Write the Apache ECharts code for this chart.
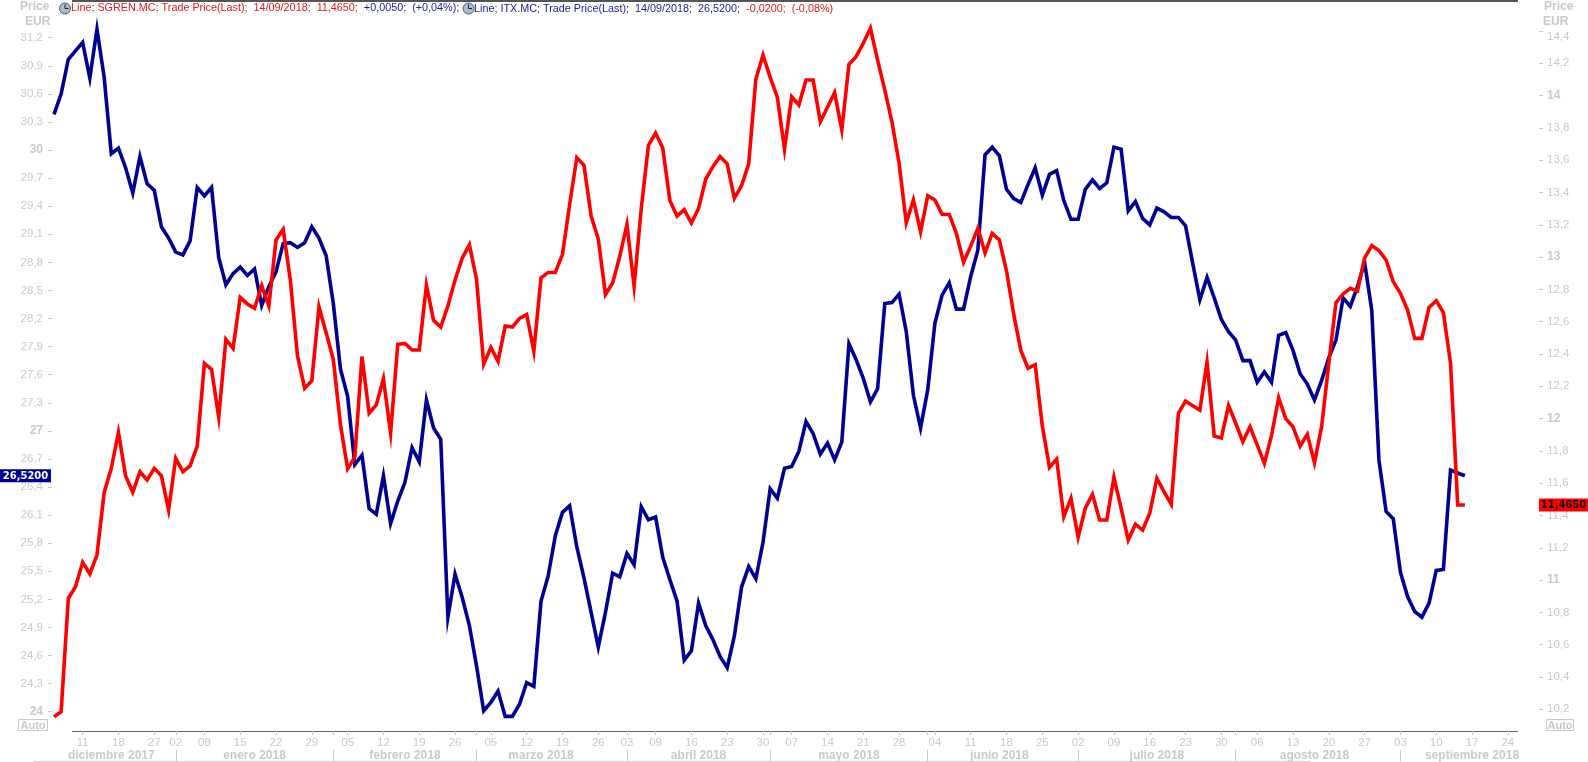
<!DOCTYPE html>
<html>
<head>
    <meta charset="utf-8">
    <title>SGREN.MC / ITX.MC</title>
    <script src="https://cdn.jsdelivr.net/npm/echarts@6/dist/echarts.min.js"></script>
    <style>
        html, body { margin: 0; padding: 0; background: #fff; }
        #main { width: 1588px; height: 762px; }
    </style>
</head>
<body>
<div id="main"></div>
<script>
// sesiones de mercado, la cola sin datos deja sitio a la derecha del eje
var dates = [
    '2017-12-05','2017-12-06','2017-12-07','2017-12-08','2017-12-11','2017-12-12','2017-12-13','2017-12-14','2017-12-15','2017-12-18','2017-12-19','2017-12-20','2017-12-21','2017-12-22','2017-12-27','2017-12-28','2017-12-29',
    '2018-01-02','2018-01-03','2018-01-04','2018-01-05','2018-01-08','2018-01-09','2018-01-10','2018-01-11','2018-01-12','2018-01-15','2018-01-16','2018-01-17','2018-01-18','2018-01-19','2018-01-22','2018-01-23','2018-01-24','2018-01-25','2018-01-26','2018-01-29','2018-01-30','2018-01-31',
    '2018-02-01','2018-02-02','2018-02-05','2018-02-06','2018-02-07','2018-02-08','2018-02-09','2018-02-12','2018-02-13','2018-02-14','2018-02-15','2018-02-16','2018-02-19','2018-02-20','2018-02-21','2018-02-22','2018-02-23','2018-02-26','2018-02-27','2018-02-28',
    '2018-03-01','2018-03-02','2018-03-05','2018-03-06','2018-03-07','2018-03-08','2018-03-09','2018-03-12','2018-03-13','2018-03-14','2018-03-15','2018-03-16','2018-03-19','2018-03-20','2018-03-21','2018-03-22','2018-03-23','2018-03-26','2018-03-27','2018-03-28','2018-03-29',
    '2018-04-03','2018-04-04','2018-04-05','2018-04-06','2018-04-09','2018-04-10','2018-04-11','2018-04-12','2018-04-13','2018-04-16','2018-04-17','2018-04-18','2018-04-19','2018-04-20','2018-04-23','2018-04-24','2018-04-25','2018-04-26','2018-04-27','2018-04-30',
    '2018-05-02','2018-05-03','2018-05-04','2018-05-07','2018-05-08','2018-05-09','2018-05-10','2018-05-11','2018-05-14','2018-05-15','2018-05-16','2018-05-17','2018-05-18','2018-05-21','2018-05-22','2018-05-23','2018-05-24','2018-05-25','2018-05-28','2018-05-29','2018-05-30','2018-05-31',
    '2018-06-01','2018-06-04','2018-06-05','2018-06-06','2018-06-07','2018-06-08','2018-06-11','2018-06-12','2018-06-13','2018-06-14','2018-06-15','2018-06-18','2018-06-19','2018-06-20','2018-06-21','2018-06-22','2018-06-25','2018-06-26','2018-06-27','2018-06-28','2018-06-29',
    '2018-07-02','2018-07-03','2018-07-04','2018-07-05','2018-07-06','2018-07-09','2018-07-10','2018-07-11','2018-07-12','2018-07-13','2018-07-16','2018-07-17','2018-07-18','2018-07-19','2018-07-20','2018-07-23','2018-07-24','2018-07-25','2018-07-26','2018-07-27','2018-07-30','2018-07-31',
    '2018-08-01','2018-08-02','2018-08-03','2018-08-06','2018-08-07','2018-08-08','2018-08-09','2018-08-10','2018-08-13','2018-08-14','2018-08-15','2018-08-16','2018-08-17','2018-08-20','2018-08-21','2018-08-22','2018-08-23','2018-08-24','2018-08-27','2018-08-28','2018-08-29','2018-08-30','2018-08-31',
    '2018-09-03','2018-09-04','2018-09-05','2018-09-06','2018-09-07','2018-09-10','2018-09-11','2018-09-12','2018-09-13','2018-09-14',
    '2018-09-17','2018-09-18','2018-09-19','2018-09-20','2018-09-21','2018-09-24','2018-09-25'
];

// ITX.MC, eje izquierdo
var itxValues = [
    30.38,30.60,30.97,31.06,31.15,30.77,31.29,30.78,29.96,30.02,29.81,29.54,29.93,29.64,29.57,29.18,29.06,
    28.91,28.88,29.03,29.60,29.51,29.60,28.85,28.56,28.68,28.75,28.66,28.73,28.34,28.54,28.70,29.00,29.01,28.96,29.01,29.18,29.06,28.87,
    28.36,27.66,27.37,26.64,26.74,26.17,26.11,26.52,26.01,26.25,26.45,26.82,26.67,27.33,27.03,26.91,25.01,25.47,25.22,24.92,
    24.49,24.01,24.10,24.22,23.95,23.95,24.08,24.31,24.27,25.18,25.45,25.88,26.13,26.20,25.76,25.43,25.06,24.69,25.06,25.48,25.44,
    25.69,25.57,26.19,26.05,26.08,25.65,25.41,25.18,24.55,24.65,25.16,24.92,24.77,24.59,24.47,24.81,25.33,25.55,25.42,25.81,
    26.38,26.28,26.60,26.62,26.78,27.10,26.97,26.75,26.87,26.69,26.88,27.93,27.76,27.56,27.31,27.45,28.36,28.37,28.46,28.06,27.38,27.03,
    27.44,28.15,28.45,28.58,28.30,28.30,28.65,28.93,29.95,30.03,29.94,29.58,29.48,29.44,29.63,29.81,29.52,29.74,29.78,29.46,29.26,
    29.26,29.58,29.68,29.59,29.65,30.03,30.01,29.35,29.45,29.27,29.20,29.38,29.34,29.28,29.28,29.19,28.79,28.40,28.64,28.42,28.19,28.06,
    27.97,27.75,27.75,27.52,27.63,27.52,28.02,28.05,27.86,27.61,27.50,27.33,27.54,27.78,27.97,28.42,28.33,28.54,28.80,28.29,26.69,26.14,26.06,
    25.49,25.23,25.07,25.01,25.16,25.51,25.52,26.58,26.55,26.52
];

// SGREN.MC, eje derecho
var sgrenValues = [
    10.154,10.185,10.887,10.959,11.110,11.038,11.155,11.541,11.692,11.915,11.645,11.544,11.671,11.620,11.692,11.646,11.434,
    11.754,11.671,11.707,11.830,12.342,12.305,12.008,12.491,12.435,12.751,12.710,12.683,12.823,12.697,13.106,13.172,12.858,12.388,12.188,12.235,12.692,12.531,
    12.365,11.962,11.690,11.761,12.384,12.033,12.085,12.246,11.911,12.460,12.465,12.425,12.425,12.827,12.609,12.567,12.697,12.858,12.993,13.076,
    12.863,12.337,12.441,12.354,12.573,12.567,12.621,12.645,12.417,12.871,12.905,12.905,13.017,13.325,13.616,13.569,13.254,13.112,12.768,12.840,13.005,
    13.202,12.820,13.301,13.692,13.768,13.676,13.349,13.254,13.294,13.211,13.302,13.482,13.560,13.622,13.577,13.364,13.442,13.577,14.101,14.251,
    14.113,13.990,13.669,13.993,13.942,14.097,14.097,13.838,13.928,14.018,13.787,14.194,14.241,14.324,14.417,14.220,14.035,13.838,13.581,13.213,13.354,13.157,
    13.380,13.354,13.265,13.264,13.147,12.968,13.068,13.178,13.025,13.147,13.106,12.914,12.648,12.422,12.312,12.334,11.954,11.698,11.749,11.393,11.507,
    11.265,11.445,11.531,11.372,11.372,11.637,11.445,11.248,11.346,11.310,11.414,11.630,11.547,11.469,12.033,12.109,12.080,12.053,12.350,11.892,11.880,12.081,
    11.971,11.857,11.950,11.837,11.723,11.894,12.129,11.998,11.950,11.830,11.903,11.727,11.950,12.342,12.718,12.772,12.807,12.790,12.993,13.071,13.040,12.982,12.848,
    12.776,12.672,12.497,12.497,12.689,12.730,12.656,12.342,11.465,11.465
];

// primeras sesiones de cada semana con etiqueta en el eje
var weekDates = [
    '2017-12-11','2017-12-18','2017-12-27','2018-01-02','2018-01-08','2018-01-15','2018-01-22','2018-01-29',
    '2018-02-05','2018-02-12','2018-02-19','2018-02-26','2018-03-05','2018-03-12','2018-03-19','2018-03-26',
    '2018-04-03','2018-04-09','2018-04-16','2018-04-23','2018-04-30','2018-05-07','2018-05-14','2018-05-21','2018-05-28',
    '2018-06-04','2018-06-11','2018-06-18','2018-06-25','2018-07-02','2018-07-09','2018-07-16','2018-07-23','2018-07-30',
    '2018-08-06','2018-08-13','2018-08-20','2018-08-27','2018-09-03','2018-09-10','2018-09-17','2018-09-24'
];
var monthStarts = ['2018-01-02','2018-02-01','2018-03-01','2018-04-03','2018-05-02','2018-06-01','2018-07-02','2018-08-01','2018-09-03'];
var monthNames = ['diciembre 2017','enero 2018','febrero 2018','marzo 2018','abril 2018','mayo 2018','junio 2018','julio 2018','agosto 2018','septiembre 2018'];
var monthCenters = ['2017-12-15','2018-01-17','2018-02-15','2018-03-14','2018-04-17','2018-05-17','2018-06-15','2018-07-17','2018-08-16','2018-09-17'];

var grey = '#c9c9c9';
var navy = '#000092';
var red = '#ff0000';
var axisFont = '"Liberation Sans"';

function priceLabel(value) {
    var v = Number(value.toFixed(1));
    var text = String(v).replace('.', ',');
    return Number.isInteger(v) ? '{b|' + text + '}' : text;
}

var priceLabelStyle = {
    color: grey,
    fontFamily: axisFont,
    fontSize: 11.5,
    formatter: priceLabel,
    rich: { b: { color: grey, fontFamily: axisFont, fontSize: 12, fontWeight: 'bold' } }
};

var chart = echarts.init(document.getElementById('main'));

var option = {
    animation: false,
    backgroundColor: '#fff',
    title: {
        text: '{r|Line; SGREN.MC; Trade Price(Last);  14/09/2018;  11,4650;  }{n|+0,0050;  (+0,04%);}',
        left: 71, top: 3, padding: 0,
        textStyle: {
            fontWeight: 'normal',
            rich: {
                r: { color: '#e01818', fontFamily: axisFont, fontSize: 10.8, fontWeight: 'normal' },
                n: { color: '#1a1a9c', fontFamily: axisFont, fontSize: 10.8, fontWeight: 'normal' }
            }
        }
    },
    grid: [
        { left: 54, width: 1461, top: 37.7, height: 674 },
        { left: 54, width: 1461, top: 31, height: 678.3 }
    ],
    xAxis: [
        {
            // sesiones
            type: 'category', gridIndex: 0, position: 'bottom', data: dates, boundaryGap: false, offset: 19.3,
            axisLine: { show: false },
            axisTick: {
                length: 4,
                lineStyle: { color: grey },
                interval: function (i, d) { return weekDates.indexOf(d) >= 0 || monthStarts.indexOf(d) >= 0; }
            },
            axisLabel: {
                color: grey, fontFamily: axisFont, fontSize: 11.5, margin: 6,
                hideOverlap: false,
                interval: function (i, d) { return weekDates.indexOf(d) >= 0; },
                formatter: function (d) { return d.slice(8); }
            }
        },
        {
            // meses
            type: 'category', gridIndex: 0, position: 'bottom', data: dates, boundaryGap: false, offset: 38,
            axisLine: { show: false },
            axisTick: {
                length: 12,
                lineStyle: { color: grey },
                interval: function (i, d) { return monthStarts.indexOf(d) >= 0; }
            },
            axisLabel: {
                color: grey, fontFamily: axisFont, fontSize: 12, fontWeight: 'bold', margin: 0,
                hideOverlap: false,
                interval: function (i, d) { return monthCenters.indexOf(d) >= 0; },
                formatter: function (d) { return monthNames[monthCenters.indexOf(d)]; }
            }
        },
        {
            type: 'category', gridIndex: 1, data: dates, boundaryGap: false, show: false
        }
    ],
    yAxis: [
        {
            type: 'value', gridIndex: 0, position: 'left', offset: 2,
            min: 24, max: 31.2, interval: 0.3,
            axisLine: { show: false },
            axisTick: { show: true, length: 4, lineStyle: { color: grey } },
            axisLabel: Object.assign({ margin: 9 }, priceLabelStyle),
            splitLine: { show: false }
        },
        {
            type: 'value', gridIndex: 1, position: 'right', offset: 24,
            min: 10.2, max: 14.4, interval: 0.2,
            axisLine: { show: false },
            axisTick: { show: true, length: 4, lineStyle: { color: grey } },
            axisLabel: Object.assign({ margin: 8, verticalAlignMaxLabel: 'top' }, priceLabelStyle),
            splitLine: { show: false }
        }
    ],
    series: [
        {
            name: 'ITX.MC', type: 'line', xAxisIndex: 0, yAxisIndex: 0,
            data: itxValues, showSymbol: false, clip: false,
            lineStyle: { color: navy, width: 3.6, join: 'miter' }
        },
        {
            name: 'SGREN.MC', type: 'line', xAxisIndex: 2, yAxisIndex: 1,
            data: sgrenValues, showSymbol: false, clip: false,
            lineStyle: { color: red, width: 3.6, join: 'miter' }
        }
    ]
};
chart.setOption(option);

function clock(cx) {
    return [
        { type: 'circle', shape: { cx: cx, cy: 8.5, r: 5.5 }, style: { fill: '#a9bccd', stroke: '#5a5a5a', lineWidth: 1 } },
        { type: 'polyline', shape: { points: [[cx, 4.5], [cx, 8.5], [cx + 3.5, 8.5]] }, style: { stroke: '#222', fill: null, lineWidth: 1 } }
    ];
}

function valueBox(x, width, yValue, fill, textColor, text) {
    return [
        { type: 'rect', z: 20, shape: { x: x, y: yValue - 6.5, width: width, height: 13 }, style: { fill: fill } },
        { type: 'text', z: 21, x: x + width / 2, y: yValue + 0.5,
          style: { text: text, fill: textColor, align: 'center', verticalAlign: 'middle',
                   font: 'bold 10px "DejaVu Sans"' } }
    ];
}

function autoBox(x, width) {
    return [
        { type: 'rect', shape: { x: x + 0.5, y: 719.5, width: width, height: 11 }, style: { fill: '#fff', stroke: grey, lineWidth: 1 } },
        { type: 'text', x: x + width / 2 + 0.5, y: 725.5,
          style: { text: 'Auto', fill: grey, align: 'center', verticalAlign: 'middle', font: 'bold 11px "Liberation Sans"' } }
    ];
}

function headerText(x, y, text) {
    return { type: 'text', x: x, y: y,
             style: { text: text, fill: grey, verticalAlign: 'middle', font: 'bold 12px "Liberation Sans"' } };
}

var itxPixel = chart.convertToPixel({ yAxisIndex: 0 }, itxValues[itxValues.length - 1]);
var sgrenPixel = chart.convertToPixel({ yAxisIndex: 1 }, sgrenValues[sgrenValues.length - 1]);

chart.setOption({
    graphic: [].concat(
        // reglas superior e inferior
        [
            { type: 'line', shape: { x1: 72, y1: 1, x2: 1518, y2: 1 }, style: { stroke: '#555', lineWidth: 2 } },
            { type: 'line', shape: { x1: 72, y1: 731.5, x2: 1518, y2: 731.5 }, style: { stroke: '#666', lineWidth: 1 } },
            { type: 'line', shape: { x1: 34, y1: 761.5, x2: 1310, y2: 761.5 }, style: { stroke: '#d0d0d0', lineWidth: 1 } },
            { type: 'text', x: 474, y: 9,
              style: { text: '{b|Line; ITX.MC; Trade Price(Last);  14/09/2018;  26,5200;  }{r|-0,0200;  (-0,08%)}',
                       verticalAlign: 'middle',
                       rich: { b: { fill: '#1a1a9c', font: '10.8px "Liberation Sans"' },
                               r: { fill: '#e01818', font: '10.8px "Liberation Sans"' } } } }
        ],
        clock(65), clock(468.5),
        headerText(20, 7, 'Price'), headerText(25, 22, 'EUR'),
        headerText(1544, 7, 'Price'), headerText(1543, 22, 'EUR'),
        autoBox(18, 29), autoBox(1546, 27),
        valueBox(0, 51, itxPixel, navy, '#fff', '26,5200'),
        valueBox(1539, 49, sgrenPixel, red, '#111', '11,4650')
    )
});
</script>
</body>
</html>
